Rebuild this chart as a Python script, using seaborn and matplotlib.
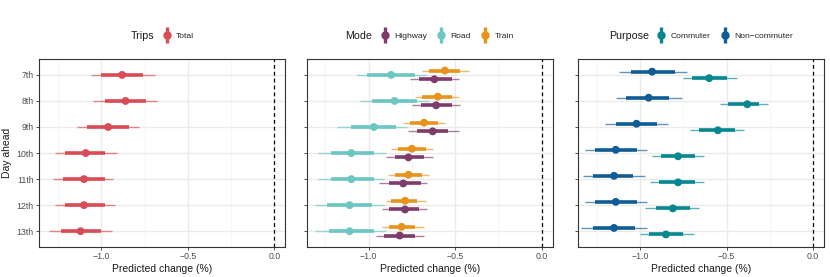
import numpy as np
import pandas as pd
import matplotlib
matplotlib.use("Agg")
import matplotlib.pyplot as plt
import seaborn as sns
from matplotlib.lines import Line2D
from matplotlib.ticker import MultipleLocator

days = ["7th", "8th", "9th", "10th", "11th", "12th", "13th"]

# Trips panel: estimate, inner (thick) interval, outer (thin) interval
trips_est = [-0.88, -0.86, -0.96, -1.09, -1.10, -1.10, -1.12]
trips_lo66 = [-1.00, -0.98, -1.08, -1.21, -1.22, -1.21, -1.23]
trips_hi66 = [-0.76, -0.74, -0.84, -0.98, -0.98, -0.98, -1.00]
trips_lo95 = [-1.06, -1.05, -1.14, -1.27, -1.28, -1.27, -1.30]
trips_hi95 = [-0.69, -0.68, -0.78, -0.91, -0.93, -0.92, -0.94]

# Mode panel
highway_est = [-0.62, -0.61, -0.63, -0.77, -0.80, -0.79, -0.82]
highway_lo66 = [-0.71, -0.70, -0.72, -0.85, -0.88, -0.88, -0.91]
highway_hi66 = [-0.52, -0.52, -0.54, -0.68, -0.70, -0.71, -0.73]
highway_lo95 = [-0.76, -0.75, -0.77, -0.90, -0.94, -0.92, -0.96]
highway_hi95 = [-0.48, -0.47, -0.48, -0.63, -0.66, -0.66, -0.68]

road_est = [-0.87, -0.85, -0.97, -1.10, -1.10, -1.11, -1.11]
road_lo66 = [-1.01, -0.98, -1.10, -1.22, -1.22, -1.24, -1.23]
road_hi66 = [-0.73, -0.72, -0.84, -0.97, -0.97, -0.98, -0.97]
road_lo95 = [-1.07, -1.05, -1.18, -1.29, -1.29, -1.31, -1.31]
road_hi95 = [-0.66, -0.65, -0.78, -0.90, -0.91, -0.91, -0.90]

train_est = [-0.56, -0.60, -0.68, -0.75, -0.77, -0.79, -0.81]
train_lo66 = [-0.65, -0.69, -0.76, -0.83, -0.85, -0.87, -0.88]
train_hi66 = [-0.47, -0.52, -0.60, -0.67, -0.69, -0.72, -0.73]
train_lo95 = [-0.69, -0.73, -0.80, -0.87, -0.89, -0.90, -0.92]
train_hi95 = [-0.42, -0.48, -0.56, -0.63, -0.65, -0.67, -0.68]

# Purpose panel
commuter_est = [-0.60, -0.38, -0.55, -0.78, -0.78, -0.81, -0.85]
commuter_lo66 = [-0.70, -0.49, -0.66, -0.88, -0.89, -0.91, -0.95]
commuter_hi66 = [-0.50, -0.31, -0.45, -0.68, -0.68, -0.71, -0.75]
commuter_lo95 = [-0.75, -0.54, -0.71, -0.93, -0.94, -0.97, -1.00]
commuter_hi95 = [-0.44, -0.26, -0.40, -0.63, -0.63, -0.66, -0.69]

noncomm_est = [-0.93, -0.95, -1.02, -1.14, -1.15, -1.14, -1.15]
noncomm_lo66 = [-1.05, -1.08, -1.14, -1.26, -1.27, -1.26, -1.27]
noncomm_hi66 = [-0.80, -0.83, -0.90, -1.02, -1.04, -1.02, -1.03]
noncomm_lo95 = [-1.12, -1.14, -1.20, -1.32, -1.33, -1.32, -1.34]
noncomm_hi95 = [-0.73, -0.76, -0.84, -0.96, -0.97, -0.96, -0.96]

panels = [
    ("Trips", ["Total"], ["#D94C55"],
     [(trips_est, trips_lo66, trips_hi66, trips_lo95, trips_hi95)]),
    ("Mode", ["Highway", "Road", "Train"], ["#7D3C6A", "#6CC6C1", "#E8931C"],
     [(highway_est, highway_lo66, highway_hi66, highway_lo95, highway_hi95),
      (road_est, road_lo66, road_hi66, road_lo95, road_hi95),
      (train_est, train_lo66, train_hi66, train_lo95, train_hi95)]),
    ("Purpose", ["Commuter", "Non\u2212commuter"], ["#07878F", "#105C95"],
     [(commuter_est, commuter_lo66, commuter_hi66, commuter_lo95, commuter_hi95),
      (noncomm_est, noncomm_lo66, noncomm_hi66, noncomm_lo95, noncomm_hi95)]),
]

sns.set_theme(style="white")
plt.rcParams["font.family"] = ["Liberation Sans", "DejaVu Sans"]
plt.rcParams["axes.unicode_minus"] = True


def build_frame(groups, series, dodge=0.5):
    rows = []
    n = len(groups)
    for i, (grp, vals) in enumerate(zip(groups, series)):
        off = ((n - 1) / 2 - i) * dodge / n
        est, lo66, hi66, lo95, hi95 = vals
        for j, d in enumerate(days):
            rows.append(dict(day=d, group=grp, ypos=j + off, est=est[j],
                             lo66=lo66[j], hi66=hi66[j], lo95=lo95[j], hi95=hi95[j]))
    return pd.DataFrame(rows)


fig = plt.figure(figsize=(8.3, 2.77), dpi=100)
lefts = [0.0474, 0.3695, 0.6964]
width = 0.2963
bottom, height = 0.109, 0.677
legends = []

for k, (title, groups, colors, series) in enumerate(panels):
    ax = fig.add_axes([lefts[k], bottom, width, height])
    df = build_frame(groups, series)
    pal = dict(zip(groups, colors))

    for grp in groups:
        sub = df[df.group == grp]
        ax.hlines(sub.ypos, sub.lo95, sub.hi95, color=pal[grp], lw=1.0, alpha=0.65, zorder=3)
        ax.hlines(sub.ypos, sub.lo66, sub.hi66, color=pal[grp], lw=2.6, zorder=3)
    sns.scatterplot(data=df, x="est", y="ypos", hue="group", palette=pal, s=32,
                    linewidth=0, legend=False, zorder=4, ax=ax)

    ax.axvline(0, color="black", lw=0.9, ls=(0, (3, 2.5)), zorder=2)
    ax.set_xlim(-1.358, 0.063)
    ax.set_ylim(6.6, -0.6)
    ax.xaxis.set_minor_locator(MultipleLocator(0.25))
    ax.set_xticks([-1.0, -0.5, 0.0])
    ax.set_xticklabels(["\u22121.0", "\u22120.5", "0.0"])
    ax.set_yticks(range(len(days)))
    if k == 0:
        ax.set_yticklabels(days)
        ax.set_ylabel("Day ahead", fontsize=7.5, color="#1A1A1A", labelpad=3)
    else:
        ax.set_yticklabels([])
        ax.set_ylabel("")
    ax.set_xlabel("Predicted change (%)", fontsize=7.5, color="#1A1A1A", labelpad=2)

    ax.grid(which="major", color="#EBEBEB", lw=1.0, zorder=0)
    ax.grid(which="minor", axis="x", color="#F3F3F3", lw=0.5, zorder=0)
    ax.set_axisbelow(True)
    for sp in ax.spines.values():
        sp.set_color("#333333")
        sp.set_linewidth(0.8)
    ax.tick_params(axis="both", which="major", labelsize=6.3, labelcolor="#4D4D4D",
                   color="#333333", length=2.5, width=0.6, pad=1.5, bottom=True, left=True)
    ax.tick_params(axis="x", which="minor", length=0)

    handles = [(Line2D([], [], color=c, marker="o", markersize=5, lw=0),
                Line2D([], [], color=c, marker="|", markersize=11, markeredgewidth=2.4, lw=0))
               for c in colors]
    leg = ax.legend(handles, groups, ncol=len(groups), loc="center left",
                    bbox_to_anchor=(0.5, 1.125), frameon=False, fontsize=6.1,
                    handlelength=1.0, handletextpad=0.6, columnspacing=1.2,
                    borderpad=0, borderaxespad=0)
    ttl = ax.annotate(title, xy=(0, 0.5), xycoords=leg, xytext=(-6, 0),
                      textcoords="offset points", ha="right", va="center",
                      fontsize=7.7, color="#1A1A1A")
    legends.append((ax, leg, ttl))

# centre each title + key group over its panel
fig.canvas.draw()
r = fig.canvas.get_renderer()
for ax, leg, ttl in legends:
    ab = ax.get_window_extent(r)
    lw = leg.get_window_extent(r).width
    tw = ttl.get_window_extent(r).width + 6 * fig.dpi / 72
    x0 = 0.5 + (tw - (tw + lw) / 2) / ab.width
    leg.set_bbox_to_anchor((x0, 1.125), transform=ax.transAxes)

fig.savefig("out.png", dpi=100)
